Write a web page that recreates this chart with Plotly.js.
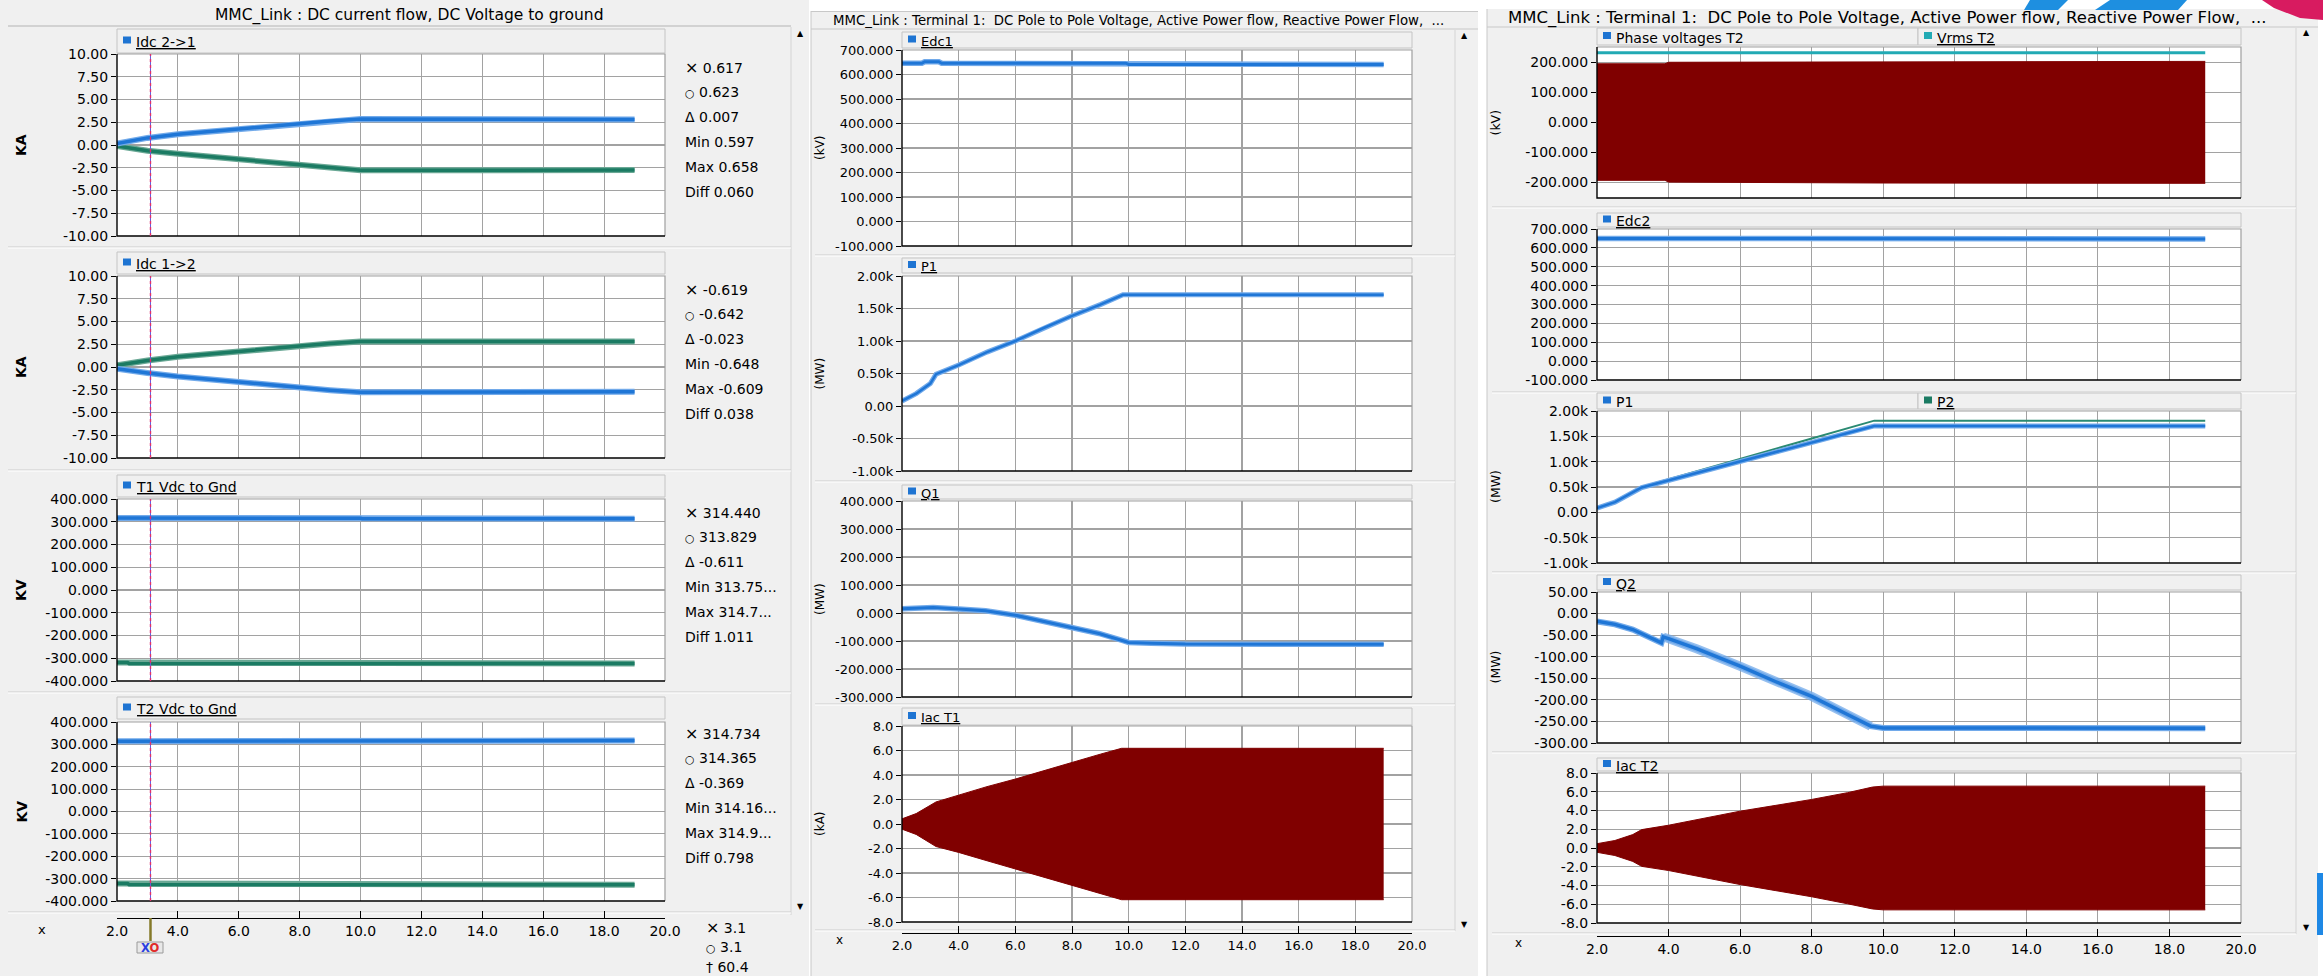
<!DOCTYPE html>
<html>
<head>
<meta charset="utf-8">
<script src="https://cdn.plot.ly/plotly-3.0.1.min.js"></script>
<style>
  html, body { margin: 0; padding: 0; background: #ffffff; }
  #chart { width: 2323px; height: 976px; }
</style>
</head>
<body>
<div id="chart"></div>
<script>
// ================= data =================
// shared time axis ticks (s)
const X_TICKS = [2, 4, 6, 8, 10, 12, 14, 16, 18, 20];
const X_TICK_TEXT = ['2.0', '4.0', '6.0', '8.0', '10.0', '12.0', '14.0', '16.0', '18.0', '20.0'];
const cursorT = 3.1;

// --- window 1: DC current flow, DC voltage to ground ---
const tIdc = [2.0, 2.5, 3.0, 4.0, 5.0, 6.0, 7.0, 8.0, 9.0, 10.0, 19.0];
const idc21Main = [0.15, 0.50, 0.78, 1.18, 1.45, 1.73, 2.03, 2.33, 2.65, 2.85, 2.80];
const idc21Return = [-0.10, -0.40, -0.63, -0.96, -1.27, -1.58, -1.85, -2.12, -2.48, -2.78, -2.75];
const idc12Main = [-0.19, -0.45, -0.65, -1.04, -1.36, -1.68, -1.96, -2.24, -2.55, -2.78, -2.72];
const idc12Return = [0.19, 0.50, 0.72, 1.12, 1.43, 1.75, 2.02, 2.30, 2.57, 2.80, 2.80];

const tVdc = [2.0, 2.35, 2.4, 10.0, 10.05, 19.0];
const t1VdcPos = [317, 317, 315, 315, 313, 313];
const t1VdcNeg = [-319, -319, -324, -324, -323, -323];
const t2VdcPos = [314, 314, 314, 314, 317, 317];
const t2VdcNeg = [-322, -322, -327, -327, -327, -327];

const idcTickVals = [-10, -7.5, -5, -2.5, 0, 2.5, 5, 7.5, 10];
const idcTickText = ['-10.00', '-7.50', '-5.00', '-2.50', '0.00', '2.50', '5.00', '7.50', '10.00'];
const vdcTickVals = [-400, -300, -200, -100, 0, 100, 200, 300, 400];
const vdcTickText = ['-400.000', '-300.000', '-200.000', '-100.000', '0.000', '100.000', '200.000', '300.000', '400.000'];

// cursor readouts: X, O, delta, min, max, diff
const readIdc21 = ['0.617', '0.623', '0.007', '0.597', '0.658', '0.060'];
const readIdc12 = ['-0.619', '-0.642', '-0.023', '-0.648', '-0.609', '0.038'];
const readT1Vdc = ['314.440', '313.829', '-0.611', '313.75...', '314.7...', '1.011'];
const readT2Vdc = ['314.734', '314.365', '-0.369', '314.16...', '314.9...', '0.798'];
const readTime = ['3.1', '3.1', '60.4'];

// --- window 2: terminal 1 ---
const tEdc1 = [2.0, 2.7, 2.8, 3.3, 3.4, 9.9, 10.0, 19.0];
const edc1 = [646, 646, 652, 652, 646, 646, 641, 641];
const tP1 = [2.0, 2.5, 3.0, 3.2, 4.0, 5.0, 6.0, 7.0, 8.0, 9.0, 9.8, 19.0];
const p1 = [77, 190, 345, 490, 630, 830, 1000, 1200, 1387, 1560, 1711, 1711];
const tQ1 = [2.0, 2.5, 3.1, 4.0, 4.95, 6.0, 6.95, 8.0, 8.95, 9.8, 10.0, 10.8, 12.0, 19.0];
const q1 = [15, 18, 20, 14, 8, -8, -29, -51, -73, -99, -105, -108, -111, -112];
const tIacT1 = [2.0, 2.5, 3.2, 4.0, 5.0, 6.0, 7.0, 8.0, 9.0, 9.75, 19.0];
const iacT1Upper = [0.42, 0.85, 1.80, 2.36, 3.05, 3.67, 4.35, 5.08, 5.70, 6.18, 6.18];
const iacT1Lower = [-0.42, -0.85, -1.84, -2.32, -3.00, -3.67, -4.32, -5.05, -5.68, -6.18, -6.18];

const edcTickVals = [-100, 0, 100, 200, 300, 400, 500, 600, 700];
const edcTickText = ['-100.000', '0.000', '100.000', '200.000', '300.000', '400.000', '500.000', '600.000', '700.000'];
const pTickVals = [-1000, -500, 0, 500, 1000, 1500, 2000];
const pTickText = ['-1.00k', '-0.50k', '0.00', '0.50k', '1.00k', '1.50k', '2.00k'];
const q1TickVals = [-300, -200, -100, 0, 100, 200, 300, 400];
const q1TickText = ['-300.000', '-200.000', '-100.000', '0.000', '100.000', '200.000', '300.000', '400.000'];
const iacTickVals = [-8, -6, -4, -2, 0, 2, 4, 6, 8];
const iacTickText = ['-8.0', '-6.0', '-4.0', '-2.0', '0.0', '2.0', '4.0', '6.0', '8.0'];

// --- window 3: terminal 2 ---
const tPhaseT2 = [2.0, 3.9, 4.0, 10.0, 19.0];
const phaseT2Upper = [196, 196, 201, 203, 204];
const phaseT2Lower = [-193, -193, -199, -202, -203];
const tVrmsT2 = [2.0, 19.0];
const vrmsT2 = [233, 233];
const tEdc2 = [2.0, 10.0, 10.05, 19.0];
const edc2 = [650, 650, 647, 647];
const tP12 = [2.0, 2.5, 3.25, 4.0, 5.0, 6.0, 7.0, 8.0, 9.0, 9.75, 19.0];
const p1T2 = [85, 200, 490, 630, 817, 1004, 1190, 1378, 1565, 1705, 1705];
const p2T2 = [95, 210, 500, 651, 853, 1054, 1256, 1457, 1659, 1810, 1810];
const tQ2 = [2.0, 2.5, 3.0, 3.5, 3.8, 3.85, 4.0, 4.8, 6.0, 7.0, 8.0, 9.0, 9.65, 10.0, 19.0];
const q2 = [-18, -25, -37, -56, -68, -54, -58, -82, -122, -158, -192, -234, -261, -265, -266];
const tIacT2 = [2.0, 2.5, 3.0, 3.25, 4.0, 5.0, 6.0, 7.0, 8.0, 9.0, 9.7, 10.0, 19.0];
const iacT2Upper = [0.46, 0.80, 1.43, 1.96, 2.43, 3.20, 3.93, 4.55, 5.18, 5.90, 6.50, 6.60, 6.60];
const iacT2Lower = [-0.46, -0.80, -1.43, -1.96, -2.40, -3.15, -3.90, -4.55, -5.20, -5.95, -6.50, -6.60, -6.60];

const phaseTickVals = [-200, -100, 0, 100, 200];
const phaseTickText = ['-200.000', '-100.000', '0.000', '100.000', '200.000'];
const q2TickVals = [-300, -250, -200, -150, -100, -50, 0, 50];
const q2TickText = ['-300.00', '-250.00', '-200.00', '-150.00', '-100.00', '-50.00', '0.00', '50.00'];

// ================= drawing helpers =================
const W = 2323, H = 976;
const fx = p => p / W;
const fy = p => 1 - p / H;
const FONT = 'DejaVu Sans';
const GRID = '#a2a2a2', FRAME = '#a0a0a0', PANEL = '#f0f0f0';
const BLUE = '#1f76d6', BLUE_SOFT = '#72aaea';
const GREEN = '#1b7b63', GREEN_SOFT = '#6aa895';
const MAROON = '#800000', TEAL = '#22aab4', MARKER = '#1e74d2';

const shapes = [];
const annotations = [];
const data = [];
const layout = {
  width: W, height: H,
  margin: { l: 0, r: 0, t: 0, b: 0 },
  paper_bgcolor: '#ffffff',
  plot_bgcolor: 'rgba(0,0,0,0)',
  showlegend: false,
  font: { family: FONT, color: '#000000', size: 13 },
  shapes, annotations
};

function rect(x0, x1, y0, y1, fill, lineColor, lw, layer) {
  shapes.push({ type: 'rect', xref: 'paper', yref: 'paper', x0: fx(x0), x1: fx(x1), y0: fy(y1), y1: fy(y0),
    fillcolor: fill, line: { color: lineColor || fill, width: lw || 0 }, layer: layer || 'below' });
}
function hline(x0, x1, y, color, lw, layer) {
  shapes.push({ type: 'line', xref: 'paper', yref: 'paper', x0: fx(x0), x1: fx(x1), y0: fy(y), y1: fy(y),
    line: { color, width: lw || 1 }, layer: layer || 'below' });
}
function vline(x, y0, y1, color, lw, layer) {
  shapes.push({ type: 'line', xref: 'paper', yref: 'paper', x0: fx(x), x1: fx(x), y0: fy(y0), y1: fy(y1),
    line: { color, width: lw || 1 }, layer: layer || 'below' });
}
function poly(points, color) {
  const d = points.map((p, i) => (i ? 'L' : 'M') + fx(p[0]) + ',' + fy(p[1])).join(' ') + ' Z';
  shapes.push({ type: 'path', xref: 'paper', yref: 'paper', layer: 'below', fillcolor: color, line: { width: 0 }, path: d });
}
function text(x, y, t, size, opts) {
  annotations.push(Object.assign({ xref: 'paper', yref: 'paper', x: fx(x), y: fy(y), text: t, showarrow: false,
    xanchor: 'left', yanchor: 'middle', font: { family: FONT, size: size, color: '#000000' } }, opts || {}));
}

let nAx = 0;
function subplot(x0, x1, y0, y1, yRange, tickVals, tickText, fs) {
  nAx++;
  const s = nAx === 1 ? '' : String(nAx);
  layout['xaxis' + s] = {
    domain: [fx(x0), fx(x1)], range: [2, 20], anchor: 'y' + s,
    tickmode: 'array', tickvals: X_TICKS, showticklabels: false, ticks: '',
    showgrid: true, gridcolor: GRID, gridwidth: 1.2, zeroline: false, showline: false, fixedrange: true
  };
  layout['yaxis' + s] = {
    domain: [fy(y1), fy(y0)], range: yRange, anchor: 'x' + s,
    tickmode: 'array', tickvals: tickVals, ticktext: tickText,
    ticks: 'outside', ticklen: 5, tickwidth: 1, tickcolor: '#000000',
    tickfont: { family: FONT, size: fs, color: '#000000' },
    showgrid: true, gridcolor: GRID, gridwidth: 1.2, zeroline: false, showline: false, fixedrange: true
  };
  rect(x0, x1, y0, y1, '#ffffff');
  shapes.push({ type: 'path', xref: 'paper', yref: 'paper', layer: 'above',
    path: `M${fx(x0)},${fy(y0)} L${fx(x1)},${fy(y0)} L${fx(x1)},${fy(y1)}`, line: { color: FRAME, width: 1.2 } });
  shapes.push({ type: 'path', xref: 'paper', yref: 'paper', layer: 'above',
    path: `M${fx(x0)},${fy(y0)} L${fx(x0)},${fy(y1)} L${fx(x1)},${fy(y1)}`, line: { color: '#000000', width: 1.4 } });
  return { x: 'x' + s, y: 'y' + s, xa: 'xaxis' + s };
}

// strip above a subplot holding the series names
function header(x0, x1, y0, y1, items, fs) {
  items.forEach((it, i) => {
    const bx0 = i === 0 ? x0 : it.x;
    const bx1 = i + 1 < items.length ? items[i + 1].x : x1;
    rect(bx0, bx1, y0, y1, PANEL, '#c4c4c4', 1);
    const ym = (y0 + y1) / 2;
    rect(bx0 + 6, bx0 + 14, ym - 4.5, ym + 2.5, it.color || MARKER);
    text(bx0 + 17, ym + 1, it.underline === false ? it.label : '<u>' + it.label + '</u>', fs);
  });
}

// bottom time axis of a window, drawn by the last subplot's x axis
function timeAxis(ax, y, fs) {
  Object.assign(layout[ax.xa], {
    anchor: 'free', position: fy(y), side: 'bottom',
    showline: true, linecolor: '#000000', linewidth: 1.4,
    ticks: 'inside', ticklen: 7, tickcolor: '#000000', tickwidth: 1,
    showticklabels: true, ticktext: X_TICK_TEXT,
    tickfont: { family: FONT, size: fs, color: '#000000' }
  });
}

function line(ax, x, y, color, width, opacity) {
  data.push({ type: 'scatter', mode: 'lines', x, y, xaxis: ax.x, yaxis: ax.y,
    line: { color, width }, opacity: opacity === undefined ? 1 : opacity, hoverinfo: 'skip' });
}
function fuzzy(ax, x, y, core, soft, width) {
  line(ax, x, y, soft, width + 2.5);
  line(ax, x, y, core, width);
}
function band(ax, x, upper, lower, color) {
  data.push({ type: 'scatter', mode: 'lines', x, y: upper, xaxis: ax.x, yaxis: ax.y, line: { color, width: 1 }, hoverinfo: 'skip' });
  data.push({ type: 'scatter', mode: 'lines', x, y: lower, xaxis: ax.x, yaxis: ax.y, line: { color, width: 1 },
    fill: 'tonexty', fillcolor: color, hoverinfo: 'skip' });
}
function ytitle(x, y0, y1, t, size, bold) {
  text(x, (y0 + y1) / 2, bold ? '<b>' + t + '</b>' : t, size, { xanchor: 'center', textangle: -90 });
}
const SYM_X = '<span style="font-size:16px">×</span> ';
const SYM_O = '<span style="font-size:11px">○</span> ';
function readouts(x, yTop, vals, fs) {
  const sym = [SYM_X, SYM_O, 'Δ ', 'Min ', 'Max ', 'Diff '];
  vals.forEach((v, i) => text(x, yTop + i * 25, sym[i] + v, fs));
}

// ================= window chrome =================
// window 1
rect(0, 809, 0, 976, PANEL);
hline(8, 791, 26, '#b4b4b4', 1);
vline(791, 27, 915, '#d4d4d4', 1);
text(800, 33, '▲', 8, { xanchor: 'center' });
text(800, 906, '▼', 8, { xanchor: 'center' });
[247, 470, 692, 912].forEach(y => { hline(8, 791, y, '#cdcdcd', 1); hline(8, 791, y + 1, '#ffffff', 1); });
text(409, 15, 'MMC_Link : DC current flow, DC Voltage to ground', 15.5, { xanchor: 'center' });

// window 2
rect(811, 1478, 11, 976, PANEL);
vline(811, 11, 976, '#c8c8c8', 1);
hline(811, 1478, 11.5, '#c8c8c8', 1);
hline(811, 1478, 29, '#c8c8c8', 1);
vline(1455, 30, 931, '#d4d4d4', 1);
text(1464, 35, '▲', 8, { xanchor: 'center' });
text(1464, 924, '▼', 8, { xanchor: 'center' });
[255, 481, 704, 930].forEach(y => { hline(815, 1455, y, '#cdcdcd', 1); hline(815, 1455, y + 1, '#ffffff', 1); });
text(831, 21, 'MMC_Link : Terminal 1:  DC Pole to Pole Voltage, Active Power flow, Reactive Power Flow,  ...', 13.3);

// window 3
rect(1487, 2318, 9, 976, PANEL);
vline(1487, 9, 976, '#c8c8c8', 1);
hline(1487, 2318, 27, '#c8c8c8', 1);
vline(2296, 28, 934, '#d4d4d4', 1);
text(2306, 32, '▲', 8, { xanchor: 'center' });
text(2306, 927, '▼', 8, { xanchor: 'center' });
[207, 392, 572, 752, 933].forEach(y => { hline(1492, 2296, y, '#cdcdcd', 1); hline(1492, 2296, y + 1, '#ffffff', 1); });
text(1506, 18, 'MMC_Link : Terminal 1:  DC Pole to Pole Voltage, Active Power flow, Reactive Power Flow,  ...', 16.5);
rect(2317, 2323, 873, 935, '#1e88e5');
// corner logo fragments
poly([[2030, 0], [2068, 0], [2058, 10], [2024, 10]], '#1e8fe0');
poly([[2110, 0], [2187, 0], [2178, 10], [2095, 10]], '#1e8fe0');
poly([[2262, 0], [2323, 0], [2323, 20], [2300, 18], [2274, 8]], '#d81b60');

// ================= window 1 plots =================
const LX0 = 117, LX1 = 665, LFS = 14;
const L1 = subplot(LX0, LX1, 54, 236, [-10, 10], idcTickVals, idcTickText, LFS);
const L2 = subplot(LX0, LX1, 276, 458, [-10, 10], idcTickVals, idcTickText, LFS);
const L3 = subplot(LX0, LX1, 499, 681, [-400, 400], vdcTickVals, vdcTickText, LFS);
const L4 = subplot(LX0, LX1, 722, 901, [-400, 400], vdcTickVals, vdcTickText, LFS);
header(LX0, LX1, 29, 53, [{ label: 'Idc 2-&gt;1' }], LFS);
header(LX0, LX1, 252, 274, [{ label: 'Idc 1-&gt;2' }], LFS);
header(LX0, LX1, 475, 497, [{ label: 'T1 Vdc to Gnd' }], LFS);
header(LX0, LX1, 697, 719, [{ label: 'T2 Vdc to Gnd' }], LFS);
ytitle(21, 54, 236, 'KA', 14, true);
ytitle(21, 276, 458, 'KA', 14, true);
ytitle(21, 499, 681, 'KV', 14, true);
ytitle(21, 722, 901, 'KV', 14, true);

fuzzy(L1, tIdc, idc21Return, GREEN, GREEN_SOFT, 3.5);
fuzzy(L1, tIdc, idc21Main, BLUE, BLUE_SOFT, 3.5);
fuzzy(L2, tIdc, idc12Return, GREEN, GREEN_SOFT, 3.5);
fuzzy(L2, tIdc, idc12Main, BLUE, BLUE_SOFT, 3.5);
fuzzy(L3, tVdc, t1VdcNeg, GREEN, GREEN_SOFT, 3.5);
fuzzy(L3, tVdc, t1VdcPos, BLUE, BLUE_SOFT, 3.5);
fuzzy(L4, tVdc, t2VdcNeg, GREEN, GREEN_SOFT, 3.5);
fuzzy(L4, tVdc, t2VdcPos, BLUE, BLUE_SOFT, 3.5);

// cursor line in every plot of window 1
[[L1, 54, 236], [L2, 276, 458], [L3, 499, 681], [L4, 722, 901]].forEach(([ax, y0, y1]) => {
  shapes.push({ type: 'line', xref: ax.x, yref: 'paper', x0: cursorT, x1: cursorT, y0: fy(y1), y1: fy(y0),
    line: { color: '#6a5ad8', width: 1 }, layer: 'above' });
  shapes.push({ type: 'line', xref: ax.x, yref: 'paper', x0: cursorT, x1: cursorT, y0: fy(y1), y1: fy(y0),
    line: { color: '#e0306a', width: 1.4, dash: '3px,3px' }, layer: 'above' });
});
readouts(683, 67, readIdc21, LFS);
readouts(683, 289, readIdc12, LFS);
readouts(683, 512, readT1Vdc, LFS);
readouts(683, 733, readT2Vdc, LFS);

timeAxis(L4, 918, LFS);
text(42, 929, 'x', 13, { xanchor: 'center' });
// cursor grip on the time axis
shapes.push({ type: 'line', xref: L4.x, yref: 'paper', x0: cursorT, x1: cursorT, y0: fy(941), y1: fy(918),
  line: { color: '#857a2a', width: 2.5 }, layer: 'above' });
shapes.push({ type: 'rect', xref: 'paper', yref: 'paper', x0: fx(137), x1: fx(163), y0: fy(953), y1: fy(942),
  fillcolor: '#e8e8e8', line: { color: '#9a9a9a', width: 1 }, layer: 'above' });
text(150, 947.5, '<b><span style="color:#2a3ee0">X</span><span style="color:#e02a2a">O</span></b>', 11.5, { xanchor: 'center' });
text(704, 927, SYM_X + readTime[0], LFS);
text(704, 947, SYM_O + readTime[1], LFS);
text(704, 967, '† ' + readTime[2], LFS);

// ================= window 2 plots =================
const MX0 = 902, MX1 = 1412, MFS = 13;
const M1 = subplot(MX0, MX1, 50, 246, [-100, 700], edcTickVals, edcTickText, MFS);
const M2 = subplot(MX0, MX1, 276, 471, [-1000, 2000], pTickVals, pTickText, MFS);
const M3 = subplot(MX0, MX1, 501, 697, [-300, 400], q1TickVals, q1TickText, MFS);
const M4 = subplot(MX0, MX1, 726, 922, [-8, 8], iacTickVals, iacTickText, MFS);
header(MX0, MX1, 32, 48, [{ label: 'Edc1' }], MFS);
header(MX0, MX1, 258, 273, [{ label: 'P1' }], MFS);
header(MX0, MX1, 485, 499, [{ label: 'Q1' }], MFS);
header(MX0, MX1, 708, 725, [{ label: 'Iac T1' }], MFS);
ytitle(820, 50, 246, '(kV)', 12);
ytitle(820, 276, 471, '(MW)', 12);
ytitle(820, 501, 697, '(MW)', 12);
ytitle(820, 726, 922, '(kA)', 12);

fuzzy(M1, tEdc1, edc1, BLUE, BLUE_SOFT, 3);
fuzzy(M2, tP1, p1, BLUE, BLUE_SOFT, 2.5);
fuzzy(M3, tQ1, q1, BLUE, BLUE_SOFT, 3);
band(M4, tIacT1, iacT1Upper, iacT1Lower, MAROON);
timeAxis(M4, 933, MFS);
text(839, 940, 'x', 12, { xanchor: 'center' });

// ================= window 3 plots =================
const RX0 = 1597, RX1 = 2241, RFS = 14;
const R1 = subplot(RX0, RX1, 47, 198, [-252, 252], phaseTickVals, phaseTickText, RFS);
const R2 = subplot(RX0, RX1, 229, 380, [-100, 700], edcTickVals, edcTickText, RFS);
const R3 = subplot(RX0, RX1, 411, 563, [-1000, 2000], pTickVals, pTickText, RFS);
const R4 = subplot(RX0, RX1, 592, 743, [-300, 50], q2TickVals, q2TickText, RFS);
const R5 = subplot(RX0, RX1, 773, 923, [-8, 8], iacTickVals, iacTickText, RFS);
header(RX0, RX1, 28, 45, [{ label: 'Phase voltages T2', underline: false }, { label: 'Vrms T2', x: 1918, color: TEAL }], RFS);
header(RX0, RX1, 213, 227, [{ label: 'Edc2' }], RFS);
header(RX0, RX1, 393, 409, [{ label: 'P1', underline: false }, { label: 'P2', x: 1918, color: GREEN }], RFS);
header(RX0, RX1, 575, 590, [{ label: 'Q2' }], RFS);
header(RX0, RX1, 758, 771, [{ label: 'Iac T2' }], RFS);
ytitle(1495, 47, 198, '(kV)', 12.5);
ytitle(1495, 411, 563, '(MW)', 12.5);
ytitle(1495, 592, 743, '(MW)', 12.5);

band(R1, tPhaseT2, phaseT2Upper, phaseT2Lower, MAROON);
line(R1, tVrmsT2, vrmsT2, TEAL, 3);
fuzzy(R2, tEdc2, edc2, BLUE, BLUE_SOFT, 3);
line(R3, tP12, p2T2, '#2a8a72', 2);
fuzzy(R3, tP12, p1T2, BLUE, BLUE_SOFT, 2.5);
// the reactive power trace is noisy while the power ramps up: wider soft band there
line(R4, tQ2.slice(5, 13), q2.slice(5, 13), BLUE_SOFT, 9, 0.75);
fuzzy(R4, tQ2, q2, BLUE, BLUE_SOFT, 3.5);
band(R5, tIacT2, iacT2Upper, iacT2Lower, MAROON);
timeAxis(R5, 936, RFS);
text(1518, 943, 'x', 12, { xanchor: 'center' });

Plotly.newPlot('chart', data, layout, { staticPlot: true, displayModeBar: false });
</script>
</body>
</html>
